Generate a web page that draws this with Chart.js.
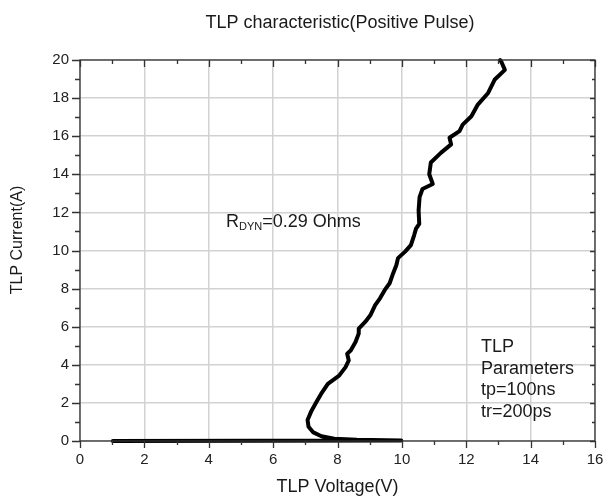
<!DOCTYPE html>
<html>
<head>
<meta charset="utf-8">
<script src="https://cdn.jsdelivr.net/npm/chart.js@4/dist/chart.umd.min.js"></script>
<style>
  html, body { margin: 0; background: #fff; }
  #wrap { width: 604px; height: 501px; }
</style>
</head>
<body>
<div id="wrap"><canvas id="tlpChart"></canvas></div>
<script>
// TLP sweep (voltage in V, current in A)
const voltage = [1.02, 9.98, 8.6, 7.9, 7.5, 7.25, 7.1, 7.07, 7.19, 7.34, 7.49, 7.7, 8.05, 8.25, 8.35,
  8.3, 8.41, 8.56, 8.66, 8.66, 8.86, 9.02, 9.17, 9.32, 9.47, 9.62, 9.73, 9.83, 9.88, 10.1,
  10.28, 10.38, 10.44, 10.54, 10.52, 10.55, 10.64, 10.96, 10.85, 10.9, 11.22, 11.53, 11.48, 11.79, 11.89,
  12.16, 12.36, 12.68, 12.88, 13.2, 13.09, 13.05];
const current = [0, 0.02, 0.06, 0.12, 0.25, 0.45, 0.75, 1.1, 1.58, 2.03, 2.47, 3.0, 3.43, 3.88, 4.23,
  4.58, 4.75, 5.2, 5.64, 5.9, 6.25, 6.6, 7.13, 7.49, 7.93, 8.28, 8.81, 9.24, 9.6, 9.94,
  10.28, 10.8, 11.15, 11.4, 12.1, 12.8, 13.23, 13.49, 14.0, 14.62, 15.14, 15.57, 15.92, 16.27, 16.61,
  17.05, 17.66, 18.27, 18.96, 19.48, 19.91, 20];

const xTicks = [0, 2, 4, 6, 8, 10, 12, 14, 16];
const yTicks = [0, 2, 4, 6, 8, 10, 12, 14, 16, 18, 20];

const chartTitle = "TLP characteristic(Positive Pulse)";
const xTitle = "TLP Voltage(V)";
const yTitle = "TLP Current(A)";
const paramLines = ["TLP", "Parameters", "tp=100ns", "tr=200ps"];

const points = voltage.map((v, i) => ({ x: v, y: current[i] }));

// box with ticks on all four sides, plus the text notes
const framePlugin = {
  id: "frame",
  afterDatasetsDraw(chart) {
    const { ctx, chartArea: a, scales: { x, y } } = chart;
    ctx.save();
    ctx.strokeStyle = "#333";
    ctx.lineWidth = 1.3;
    ctx.strokeRect(a.left, a.top, a.right - a.left, a.bottom - a.top);
    ctx.beginPath();
    for (let v = 0; v <= 16; v++) {
      const px = Math.round(x.getPixelForValue(v)) + 0.5;
      const len = v % 2 ? 4 : 7;
      ctx.moveTo(px, a.bottom); ctx.lineTo(px, a.bottom + len);
      ctx.moveTo(px, a.top); ctx.lineTo(px, a.top + len);
    }
    for (let v = 0; v <= 20; v++) {
      const py = Math.round(y.getPixelForValue(v)) + 0.5;
      const len = v % 2 ? 5 : 8;
      ctx.moveTo(a.left, py); ctx.lineTo(a.left - len, py);
      ctx.moveTo(a.right, py); ctx.lineTo(a.right - (v % 2 ? 3 : 5), py);
    }
    ctx.stroke();

    ctx.fillStyle = "#1a1a1a";
    ctx.textBaseline = "middle";
    ctx.textAlign = "center";
    ctx.font = "18px 'Liberation Sans', Arial, sans-serif";
    ctx.fillText(chartTitle, 340, 23);

    ctx.save();
    ctx.translate(18, 240);
    ctx.rotate(-Math.PI / 2);
    ctx.font = "16px 'Liberation Sans', Arial, sans-serif";
    ctx.fillText(yTitle, 0, 0);
    ctx.restore();

    // R_DYN note
    ctx.textAlign = "left";
    ctx.textBaseline = "alphabetic";
    ctx.font = "18px 'Liberation Sans', Arial, sans-serif";
    let tx = 226;
    ctx.fillText("R", tx, 227);
    tx += ctx.measureText("R").width;
    ctx.font = "11px 'Liberation Sans', Arial, sans-serif";
    ctx.fillText("DYN", tx, 230);
    tx += ctx.measureText("DYN").width;
    ctx.font = "18px 'Liberation Sans', Arial, sans-serif";
    ctx.fillText("=0.29 Ohms", tx, 227);

    paramLines.forEach((t, i) => ctx.fillText(t, 481, 352 + i * 21.5));
    ctx.restore();
  }
};

new Chart(document.getElementById("tlpChart"), {
  type: "line",
  data: {
    datasets: [{
      data: points,
      borderColor: "#000",
      borderWidth: 4,
      pointRadius: 0,
      tension: 0,
      borderJoinStyle: "round",
      borderCapStyle: "round",
      clip: false
    }]
  },
  options: {
    responsive: true,
    maintainAspectRatio: false,
    animation: false,
    layout: { padding: { top: 60, right: 9, left: 0, bottom: 0 } },
    plugins: { legend: { display: false }, tooltip: { enabled: false }, title: { display: false } },
    scales: {
      x: {
        type: "linear",
        min: 0, max: 16,
        afterFit: s => { s.height = 60; s.paddingLeft = 0; s.paddingRight = 0; },
        afterBuildTicks: s => { s.ticks = xTicks.map(v => ({ value: v })); },
        grid: { color: "#d2d2d2", lineWidth: 1.5, drawTicks: false },
        border: { display: false },
        ticks: { padding: 10, color: "#222", font: { size: 15, family: "'Liberation Sans', Arial" } },
        title: {
          display: true, text: xTitle, color: "#1a1a1a",
          font: { size: 18, family: "'Liberation Sans', Arial" }, padding: { top: 0, bottom: 3 }
        }
      },
      y: {
        type: "linear",
        min: 0, max: 20,
        afterFit: s => { s.width = 80; s.paddingTop = 0; s.paddingBottom = 0; },
        afterBuildTicks: s => { s.ticks = yTicks.map(v => ({ value: v })); },
        grid: { color: "#d2d2d2", lineWidth: 1.5, drawTicks: false },
        border: { display: false },
        ticks: { padding: 11, color: "#222", font: { size: 15, family: "'Liberation Sans', Arial" } }
      }
    }
  },
  plugins: [framePlugin]
});
</script>
</body>
</html>
